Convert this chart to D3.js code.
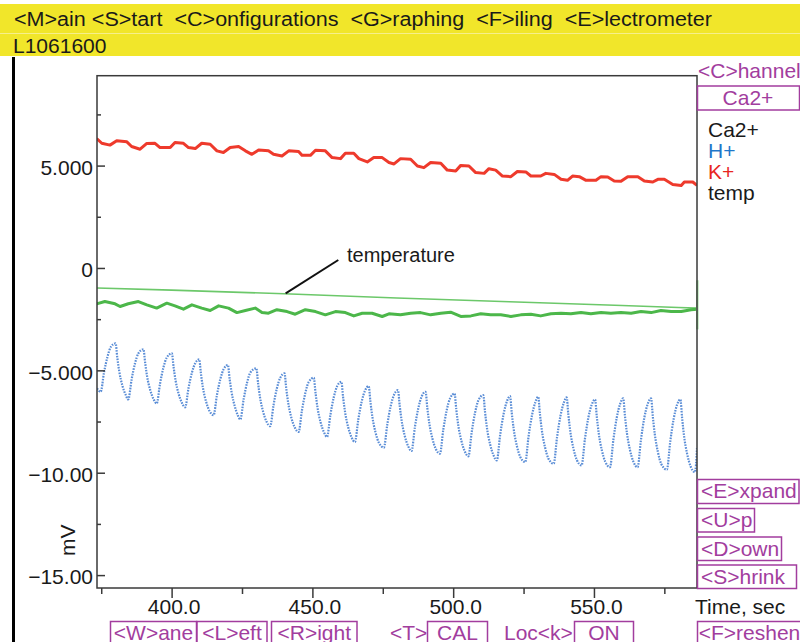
<!DOCTYPE html>
<html>
<head>
<meta charset="utf-8">
<script src="https://d3js.org/d3.v7.min.js"></script>
<style>
body { margin: 0; background: #fff; }
svg text { font-family: "Liberation Sans", Arial, Helvetica, sans-serif; }
</style>
</head>
<body>
<script>
// ---- data ----
var menuLine = "<M>ain <S>tart  <C>onfigurations  <G>raphing  <F>iling  <E>lectrometer";
var fileLine = "L1061600";

var timeTicks = [400, 450, 500, 550];
var timeLabels = ["400.0", "450.0", "500.0", "550.0"];
var timeMinor = [375, 425, 475, 525, 575];
var mvTicks = [5, 0, -5, -10, -15];
var mvLabels = ["5.000", "0", "\u22125.000", "\u221210.00", "\u221215.00"];
var mvMinor = [7.5, 2.5, -2.5, -7.5, -12.5];

var channels = ["Ca2+", "H+", "K+", "temp"];
var channelColors = ["#1a1a1a", "#1f77c9", "#e8261f", "#1a1a1a"];
var rightButtons = ["<E>xpand", "<U>p", "<D>own", "<S>hrink"];
var bottomButtons = ["<W>ane", "<L>eft", "<R>ight", "CAL", "ON", "<F>reshen"];
var bottomPlain = ["<T>", "Loc<k>"];

// [time s, mV]
var redTrace = [[373.4,6.32],[375.2,6.09],[378.1,6.00],[380.5,6.21],[384.1,6.16],[385.8,5.93],[388.8,5.80],[391.2,6.08],[394.1,6.09],[395.9,5.88],[399.5,5.88],[401.2,6.13],[404.2,6.09],[406.0,5.88],[408.4,5.83],[410.7,6.09],[413.7,6.04],[416.1,5.72],[418.4,5.64],[420.8,5.88],[423.8,5.93],[426.2,5.72],[428.5,5.55],[430.9,5.76],[434.4,5.72],[436.2,5.55],[439.2,5.47],[441.6,5.72],[445.1,5.69],[446.3,5.50],[449.3,5.50],[451.1,5.75],[454.6,5.72],[457.0,5.39],[460.0,5.34],[461.7,5.60],[464.7,5.60],[466.5,5.34],[469.5,5.18],[471.8,5.39],[474.8,5.39],[477.2,5.15],[479.0,5.08],[481.3,5.34],[484.9,5.31],[487.3,4.98],[489.6,4.90],[492.0,5.15],[495.6,5.11],[497.9,4.78],[500.9,4.74],[502.7,5.01],[505.6,4.98],[508.0,4.66],[511.0,4.62],[512.7,4.85],[515.1,4.78],[517.5,4.49],[520.5,4.46],[522.8,4.71],[525.8,4.69],[527.6,4.49],[531.1,4.49],[532.9,4.62],[535.9,4.57],[538.3,4.33],[540.6,4.28],[542.4,4.49],[544.8,4.46],[547.2,4.28],[550.7,4.28],[552.5,4.46],[554.9,4.44],[557.2,4.25],[559.6,4.23],[562.0,4.46],[565.6,4.46],[567.9,4.25],[570.9,4.20],[572.7,4.33],[575.0,4.33],[578.0,4.08],[581.0,4.03],[582.1,4.20],[585.1,4.20],[586.6,4.03]];

var tempTrace = [[373.5,-0.98],[400,-1.08],[440,-1.26],[480,-1.47],[520,-1.65],[560,-1.83],[580,-1.93],[586.6,-1.96]];

var greenTrace = [[373.4,-1.75],[376.3,-1.64],[379.9,-1.75],[381.7,-1.88],[384.6,-1.75],[388.2,-1.64],[391.2,-1.80],[394.7,-1.96],[398.3,-1.72],[401.2,-1.85],[404.2,-2.01],[407.2,-1.80],[410.7,-1.96],[413.7,-2.08],[416.7,-1.85],[420.2,-1.96],[423.2,-2.18],[426.2,-2.08],[429.7,-1.96],[432.1,-2.18],[434.4,-2.21],[437.4,-2.04],[441.0,-2.13],[443.9,-2.26],[447.5,-2.04],[451.1,-2.13],[454.6,-2.29],[458.2,-2.13],[461.7,-2.18],[464.7,-2.34],[467.7,-2.21],[471.2,-2.21],[474.8,-2.37],[477.2,-2.24],[481.3,-2.29],[484.9,-2.21],[488.4,-2.18],[492.0,-2.29],[495.6,-2.21],[499.1,-2.16],[502.7,-2.37],[506.3,-2.34],[509.8,-2.24],[513.3,-2.29],[516.9,-2.29],[520.5,-2.37],[524.0,-2.29],[527.6,-2.26],[531.1,-2.34],[534.7,-2.24],[538.3,-2.21],[541.8,-2.24],[545.4,-2.18],[548.9,-2.24],[552.5,-2.18],[556.0,-2.21],[559.6,-2.18],[563.2,-2.21],[566.7,-2.13],[570.3,-2.18],[573.8,-2.08],[577.4,-2.13],[581.0,-2.13],[584.5,-2.04],[586.6,-2.01]];

var blueTrace = [[373.5,-5.88],[374.8,-6.05],[376.0,-5.10],[377.2,-4.35],[378.4,-3.86],[380.1,-3.68],
[380.7,-4.37],[381.4,-5.05],[382.5,-5.74],[383.7,-6.20],[384.6,-6.42],[385.8,-5.44],[387.0,-4.66],[388.2,-4.17],[390.0,-3.97],
[390.6,-4.63],[391.3,-5.30],[392.4,-5.96],[393.6,-6.41],[394.7,-6.62],[395.9,-5.64],[397.1,-4.86],[398.3,-4.37],[400.1,-4.17],
[400.7,-4.83],[401.4,-5.49],[402.5,-6.15],[403.7,-6.60],[404.8,-6.81],[406.0,-5.87],[407.2,-5.12],[408.4,-4.65],[409.8,-4.46],
[410.4,-5.14],[411.1,-5.83],[412.2,-6.51],[413.4,-6.97],[414.9,-7.19],[416.1,-6.21],[417.3,-5.43],[418.5,-4.94],[420.0,-4.74],
[420.6,-5.41],[421.3,-6.07],[422.4,-6.74],[423.5,-7.19],[424.4,-7.40],[425.6,-6.40],[426.8,-5.60],[428.0,-5.10],[430.1,-4.90],
[430.7,-5.61],[431.4,-6.32],[432.5,-7.02],[433.7,-7.50],[435.0,-7.73],[436.2,-6.70],[437.4,-5.87],[438.6,-5.36],[440.1,-5.15],
[440.7,-5.87],[441.4,-6.58],[442.5,-7.30],[443.7,-7.78],[445.1,-8.01],[446.3,-6.95],[447.5,-6.10],[448.7,-5.57],[450.5,-5.36],
[451.1,-6.08],[451.8,-6.80],[452.9,-7.53],[454.1,-8.02],[455.2,-8.25],[456.4,-7.17],[457.6,-6.31],[458.8,-5.77],[460.3,-5.56],
[460.9,-6.30],[461.6,-7.03],[462.7,-7.77],[463.9,-8.27],[465.1,-8.50],[466.3,-7.41],[467.5,-6.53],[468.7,-5.99],[470.0,-5.77],
[470.6,-6.52],[471.3,-7.27],[472.4,-8.02],[473.6,-8.53],[475.4,-8.77],[476.6,-7.65],[477.8,-6.75],[479.0,-6.19],[480.4,-5.97],
[481.0,-6.71],[481.7,-7.46],[482.8,-8.20],[484.0,-8.70],[485.2,-8.94],[486.4,-7.78],[487.6,-6.86],[488.8,-6.28],[490.2,-6.05],
[490.8,-6.81],[491.5,-7.56],[492.6,-8.32],[493.8,-8.83],[495.3,-9.07],[496.5,-7.89],[497.7,-6.95],[498.9,-6.37],[500.5,-6.13],
[501.1,-6.90],[501.8,-7.67],[502.9,-8.43],[504.1,-8.95],[505.4,-9.20],[506.6,-8.00],[507.8,-7.05],[509.0,-6.45],[510.7,-6.21],
[511.3,-7.01],[512.0,-7.81],[513.1,-8.60],[514.3,-9.14],[515.5,-9.40],[516.7,-8.14],[517.9,-7.14],[519.1,-6.51],[520.2,-6.26],
[520.8,-7.07],[521.5,-7.87],[522.6,-8.68],[523.8,-9.22],[525.6,-9.48],[526.8,-8.20],[528.0,-7.19],[529.2,-6.55],[530.2,-6.29],
[530.8,-7.11],[531.5,-7.93],[532.6,-8.74],[533.8,-9.30],[535.7,-9.56],[536.9,-8.26],[538.1,-7.23],[539.3,-6.58],[540.3,-6.32],
[540.9,-7.15],[541.6,-7.98],[542.7,-8.81],[543.9,-9.37],[545.6,-9.64],[546.8,-8.35],[548.0,-7.32],[549.2,-6.68],[550.4,-6.42],
[551.0,-7.25],[551.7,-8.08],[552.8,-8.90],[554.0,-9.46],[555.7,-9.73],[556.9,-8.39],[558.1,-7.31],[559.3,-6.64],[560.4,-6.37],
[561.0,-7.21],[561.7,-8.05],[562.8,-8.89],[564.0,-9.46],[565.5,-9.73],[566.7,-8.39],[567.9,-7.31],[569.1,-6.64],[570.3,-6.37],
[570.9,-7.24],[571.6,-8.11],[572.7,-8.98],[573.9,-9.57],[575.9,-9.85],[577.1,-8.48],[578.3,-7.38],[579.5,-6.69],[580.7,-6.42],
[581.3,-7.31],[582.0,-8.20],[583.1,-9.08],[584.3,-9.68],[585.9,-9.97],[586.6,-8.80]];

// annotation: arrow tip on temperature line, line end and label position (time, mV)
var noteTip = [440.5, -1.24], noteEnd = [459.2, 0.39], noteText = [462.3, 0.29];

// ---- drawing ----
var width = 800, height = 642;
var magenta = "#a23d9e";
var svg = d3.select("body").append("svg")
	.attr("width", width)
	.attr("height", height);

var plotLeft = 97, plotRight = 697, plotTop = 75.7, plotBottom = 588;

var x = d3.scaleLinear().domain([373.5, 586.6]).range([plotLeft, plotRight]);
var y = d3.scaleLinear().domain([-15.63, 9.39]).range([plotBottom, plotTop]);

// header bar
svg.append("rect").attr("x", 0).attr("y", 4).attr("width", width).attr("height", 52).attr("fill", "#f1e62a");
svg.append("line").attr("x1", 0).attr("x2", width).attr("y1", 33.5).attr("y2", 33.5)
	.attr("stroke", "#f6ef8c").attr("stroke-width", 1);
svg.append("text").attr("x", 14).attr("y", 26)
	.attr("font-size", 20).attr("fill", "#1a1a1a")
	.attr("textLength", 698).attr("lengthAdjust", "spacingAndGlyphs")
	.style("white-space", "pre")
	.text(menuLine);
svg.append("text").attr("x", 13).attr("y", 53)
	.attr("font-size", 21).attr("fill", "#1a1a1a")
	.text(fileLine);

// left black edge
svg.append("line").attr("x1", 13.5).attr("x2", 13.5).attr("y1", 57).attr("y2", height)
	.attr("stroke", "#000").attr("stroke-width", 3);

// traces, clipped to plot
svg.append("clipPath").attr("id", "plotclip")
	.append("rect").attr("x", plotLeft).attr("y", plotTop).attr("width", plotRight - plotLeft).attr("height", plotBottom - plotTop);
var plot = svg.append("g").attr("clip-path", "url(#plotclip)");

var line = d3.line().x(function(d) { return x(d[0]); }).y(function(d) { return y(d[1]); });

plot.append("path").datum(redTrace)
	.attr("d", line).attr("fill", "none")
	.attr("stroke", "#ee3a2c").attr("stroke-width", 3).attr("stroke-linejoin", "round");

plot.append("path").datum(tempTrace)
	.attr("d", line).attr("fill", "none")
	.attr("stroke", "#6cc86a").attr("stroke-width", 1.6);

plot.append("path").datum(greenTrace)
	.attr("d", line).attr("fill", "none")
	.attr("stroke", "#4cb74a").attr("stroke-width", 3).attr("stroke-linejoin", "round");

plot.append("path").datum(blueTrace)
	.attr("d", d3.line().curve(d3.curveMonotoneX)
		.x(function(d) { return x(d[0]); }).y(function(d) { return y(d[1]); }))
	.attr("fill", "none")
	.attr("stroke", "#5a8dd6").attr("stroke-width", 2.2).attr("stroke-dasharray", "1.6,1.2");

// light green marker on the right edge
svg.append("rect").attr("x", plotRight - 1).attr("y", y(-0.6)).attr("width", 2.5).attr("height", y(-3.0) - y(-0.6))
	.attr("fill", "#9edb9c");

// frame
svg.append("rect").attr("x", plotLeft).attr("y", plotTop).attr("width", plotRight - plotLeft).attr("height", plotBottom - plotTop)
	.attr("fill", "none").attr("stroke", "#3a3a3a").attr("stroke-width", 1.5);

// y axis: ticks pointing inward
var yAxis = svg.append("g").attr("transform", "translate(" + plotLeft + ",0)")
	.call(d3.axisLeft(y).tickValues(mvTicks).tickSizeInner(-8).tickSizeOuter(0).tickPadding(4)
		.tickFormat(function(d, i) { return mvLabels[i]; }));
yAxis.select(".domain").remove();
yAxis.selectAll("line").attr("stroke", "#3a3a3a").attr("stroke-width", 1.5);
yAxis.selectAll("text").attr("font-size", 21).attr("fill", "#1a1a1a")
	.attr("font-family", null).attr("dy", "0.42em");
var yMinor = svg.append("g").attr("transform", "translate(" + plotLeft + ",0)")
	.call(d3.axisLeft(y).tickValues(mvMinor).tickSizeInner(-4).tickSizeOuter(0).tickFormat(""));
yMinor.select(".domain").remove();
yMinor.selectAll("line").attr("stroke", "#3a3a3a").attr("stroke-width", 1.5);

svg.append("text")
	.attr("transform", "translate(75," + y(-13.3) + ") rotate(-90)")
	.attr("text-anchor", "middle").attr("font-size", 21).attr("fill", "#1a1a1a")
	.text("mV");

// x axis
var xAxis = svg.append("g").attr("transform", "translate(0," + plotBottom + ")")
	.call(d3.axisBottom(x).tickValues(timeTicks).tickSizeInner(10).tickSizeOuter(0).tickPadding(1)
		.tickFormat(function(d, i) { return timeLabels[i]; }));
xAxis.select(".domain").remove();
xAxis.selectAll("line").attr("stroke", "#3a3a3a").attr("stroke-width", 1.5);
xAxis.selectAll("text").attr("font-size", 21).attr("fill", "#1a1a1a").attr("font-family", null)
	.attr("dx", 2);
var xMinor = svg.append("g").attr("transform", "translate(0," + plotBottom + ")")
	.call(d3.axisBottom(x).tickValues(timeMinor).tickSizeInner(6).tickSizeOuter(0).tickFormat(""));
xMinor.select(".domain").remove();
xMinor.selectAll("line").attr("stroke", "#3a3a3a").attr("stroke-width", 1.5);

svg.append("text").attr("x", 695).attr("y", 614)
	.attr("font-size", 21).attr("fill", "#1a1a1a").text("Time, sec");

// annotation
svg.append("line")
	.attr("x1", x(noteTip[0])).attr("y1", y(noteTip[1]))
	.attr("x2", x(noteEnd[0])).attr("y2", y(noteEnd[1]))
	.attr("stroke", "#111").attr("stroke-width", 2);
svg.append("text").attr("x", x(noteText[0])).attr("y", y(noteText[1]))
	.attr("font-size", 20).attr("fill", "#1a1a1a").text("temperature");

// right side panel
svg.append("text").attr("x", 698).attr("y", 78)
	.attr("font-size", 21).attr("fill", magenta).text("<C>hannel");
svg.append("rect").attr("x", 697.5).attr("y", 86).attr("width", 102).attr("height", 24)
	.attr("fill", "#fff").attr("stroke", magenta).attr("stroke-width", 1.5);
svg.append("text").attr("x", 748).attr("y", 105).attr("text-anchor", "middle")
	.attr("font-size", 21).attr("fill", magenta).text(channels[0]);

svg.selectAll(".chan").data(channels).enter().append("text")
	.attr("class", "chan")
	.attr("x", 708)
	.attr("y", function(d, i) { return 137 + i * 21; })
	.attr("font-size", 21)
	.attr("fill", function(d, i) { return channelColors[i]; })
	.text(function(d) { return d; });

// buttons
function button(label, bx, by, bw, bh, leftAlign) {
	svg.append("rect").attr("x", bx).attr("y", by).attr("width", bw).attr("height", bh)
		.attr("fill", "#fff").attr("stroke", magenta).attr("stroke-width", 1.5);
	svg.append("text")
		.attr("x", leftAlign ? bx + 3.5 : bx + bw / 2)
		.attr("y", by + 18.5)
		.attr("text-anchor", leftAlign ? "start" : "middle")
		.attr("font-size", 21).attr("fill", magenta).text(label);
}
var rightBoxes = [[697.5, 479.5, 101.5, 24], [697.5, 508.5, 57, 23.5], [697.5, 537, 84, 23.5], [697.5, 565, 99, 23.5]];
rightButtons.forEach(function(b, i) { button(b, rightBoxes[i][0], rightBoxes[i][1], rightBoxes[i][2], rightBoxes[i][3], true); });

var bottomBoxes = [[110.5, 86], [197, 70], [271.5, 85.5], [427.5, 60], [574.5, 59], [697.5, 104]];
bottomButtons.forEach(function(b, i) { button(b, bottomBoxes[i][0], 621.5, bottomBoxes[i][1], 26, false); });
svg.append("text").attr("x", 390).attr("y", 640).attr("font-size", 21).attr("fill", magenta).text(bottomPlain[0]);
svg.append("text").attr("x", 504).attr("y", 640).attr("font-size", 21).attr("fill", magenta).text(bottomPlain[1]);
</script>
</body>
</html>
